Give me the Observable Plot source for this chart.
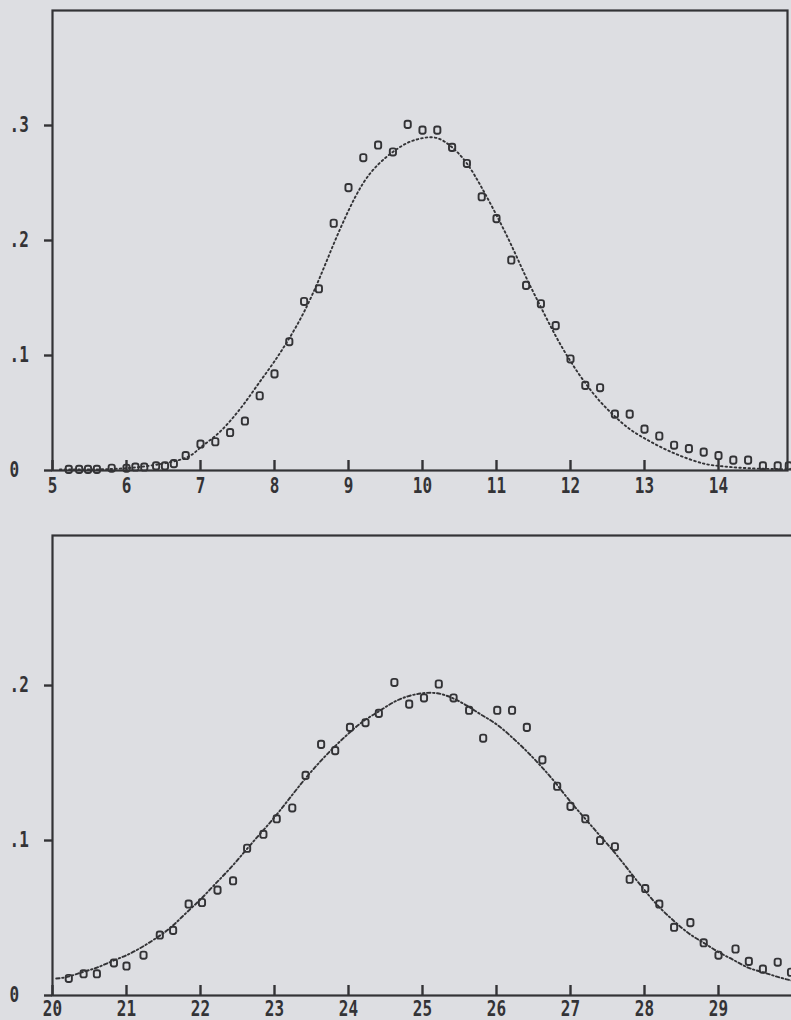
<!DOCTYPE html>
<html><head><meta charset="utf-8">
<script src="https://cdn.jsdelivr.net/npm/d3@7"></script>
<script src="https://cdn.jsdelivr.net/npm/@observablehq/plot@0.6"></script>
<style>
html,body{margin:0;padding:0;background:#dddee2;overflow:hidden;width:791px;height:1020px}
#c svg{display:block;max-width:none !important}
</style></head><body><div id="c"></div>
<script>
// ---------- top panel ----------
const topPointX = [5.22,5.36,5.48,5.6,5.8,6.0,6.12,6.24,6.4,6.52,6.64,6.8,7.0,7.2,7.4,7.6,7.8,8.0,8.2,8.4,8.6,8.8,9.0,9.2,9.4,9.6,9.8,10.0,10.2,10.4,10.6,10.8,11.0,11.2,11.4,11.6,11.8,12.0,12.2,12.4,12.6,12.8,13.0,13.2,13.4,13.6,13.8,14.0,14.2,14.4,14.6,14.8,14.95];
const topPointY = [0.001,0.001,0.001,0.001,0.002,0.002,0.003,0.003,0.004,0.004,0.006,0.013,0.023,0.025,0.033,0.043,0.065,0.084,0.112,0.147,0.158,0.215,0.246,0.272,0.283,0.277,0.301,0.296,0.296,0.281,0.267,0.238,0.219,0.183,0.161,0.145,0.126,0.097,0.074,0.072,0.049,0.049,0.036,0.030,0.022,0.019,0.016,0.013,0.009,0.009,0.004,0.004,0.004];
const topCurveX = [5.1,5.6,6.0,6.4,6.8,7.0,7.2,7.4,7.6,7.8,8.0,8.2,8.4,8.6,8.8,9.0,9.2,9.4,9.6,9.8,10.0,10.2,10.4,10.6,10.8,11.0,11.2,11.4,11.6,11.8,12.0,12.2,12.4,12.6,12.8,13.0,13.2,13.4,13.6,13.8,14.0,14.4,15.0];
const topCurveY = [0.001,0.001,0.002,0.005,0.011,0.02,0.03,0.043,0.059,0.077,0.095,0.115,0.138,0.166,0.197,0.226,0.25,0.266,0.277,0.285,0.289,0.289,0.281,0.267,0.246,0.222,0.196,0.168,0.142,0.117,0.095,0.076,0.06,0.047,0.036,0.028,0.021,0.015,0.01,0.006,0.004,0.002,0.001];
const topXTicks = [5,6,7,8,9,10,11,12,13,14];
const topYTicks = [0,0.1,0.2,0.3];
const topXDomain = [5,15];
const topYDomain = [0,0.4];

// ---------- bottom panel ----------
const botPointX = [20.22,20.42,20.6,20.83,21.0,21.23,21.45,21.63,21.84,22.02,22.23,22.44,22.63,22.85,23.03,23.24,23.42,23.63,23.82,24.02,24.23,24.41,24.62,24.82,25.02,25.22,25.42,25.63,25.82,26.01,26.21,26.41,26.62,26.82,27.0,27.2,27.4,27.6,27.8,28.01,28.2,28.4,28.62,28.8,29.0,29.23,29.41,29.6,29.8,29.98];
const botPointY = [0.011,0.014,0.014,0.021,0.019,0.026,0.039,0.042,0.059,0.060,0.068,0.074,0.095,0.104,0.114,0.121,0.142,0.162,0.158,0.173,0.176,0.182,0.202,0.188,0.192,0.201,0.192,0.184,0.166,0.184,0.184,0.173,0.152,0.135,0.122,0.114,0.100,0.096,0.075,0.069,0.059,0.044,0.047,0.034,0.026,0.030,0.022,0.017,0.0215,0.015];
const botCurveX = [20.05,20.2,20.4,20.6,20.8,21.0,21.2,21.4,21.6,21.8,22.0,22.2,22.4,22.6,22.8,23.0,23.2,23.4,23.6,23.8,24.0,24.2,24.4,24.6,24.8,25.0,25.2,25.4,25.6,25.8,26.0,26.2,26.4,26.6,26.8,27.0,27.2,27.4,27.6,27.8,28.0,28.2,28.4,28.6,28.8,29.0,29.2,29.4,29.6,29.8,30.0];
const botCurveY = [0.011,0.012,0.015,0.018,0.022,0.026,0.031,0.037,0.044,0.053,0.062,0.072,0.082,0.093,0.104,0.115,0.127,0.139,0.15,0.16,0.169,0.177,0.183,0.189,0.193,0.195,0.195,0.192,0.187,0.181,0.175,0.167,0.158,0.148,0.137,0.125,0.114,0.103,0.092,0.08,0.068,0.057,0.048,0.04,0.034,0.028,0.023,0.018,0.015,0.012,0.0095];
const botXTicks = [20,21,22,23,24,25,26,27,28,29];
const botYTicks = [0,0.1,0.2];
const botXDomain = [20,30];
const botYDomain = [0,0.2968];

const ink = "#333336";
const zip = (xs, ys) => xs.map((x, i) => ({x, y: ys[i]}));
const yFmt = d => d === 0 ? "0" : d3.format(".1f")(d).replace(/^0/, "");

const roundedSquare = {
  draw(ctx, size) {
    const w = 3.1, h = 3.6, r = 2.2;
    ctx.moveTo(-w + r, -h);
    ctx.lineTo(w - r, -h);
    ctx.arcTo(w, -h, w, -h + r, r);
    ctx.lineTo(w, h - r);
    ctx.arcTo(w, h, w - r, h, r);
    ctx.lineTo(-w + r, h);
    ctx.arcTo(-w, h, -w, h - r, r);
    ctx.lineTo(-w, -h + r);
    ctx.arcTo(-w, -h, -w + r, -h, r);
    ctx.closePath();
  }
};

function panel({height, marginTop, marginBottom, xDomain, yDomain, xTicks, yTicks, points, curve, dash, labelGap, frameInsetRight}) {
  const innerHeight = height - marginTop - marginBottom;
  return Plot.plot({
    width: 800, height, marginLeft: 52, marginRight: 8, marginTop, marginBottom,
    style: {background: "transparent", color: ink, fontFamily: "'DejaVu Sans Mono', monospace", fontSize: "16px", fontWeight: "bold"},
    x: {domain: xDomain},
    y: {domain: yDomain},
    marks: [
      Plot.frame({stroke: ink, strokeWidth: 2.2, insetRight: frameInsetRight}),
      // inward x ticks rising 10px from the baseline
      Plot.tickX(xTicks, {x: d => d, insetTop: innerHeight - 10, stroke: ink, strokeWidth: 2.4}),
      // x tick labels
      Plot.axisX(xTicks, {label: null, tickSize: 0, tickPadding: labelGap, fill: ink}),
      // outward y ticks
      Plot.axisY(yTicks, {label: null, tickSize: 8, tickFormat: () => "", strokeWidth: 2.4, stroke: ink}),
      // left-aligned y tick labels
      Plot.axisY(yTicks, {label: null, tickSize: 0, tickPadding: 0, textAnchor: "start", dx: -43, tickFormat: yFmt, fill: ink}),
      Plot.line(curve, {x: "x", y: "y", curve: "natural", stroke: ink, strokeWidth: 1.9, strokeDasharray: dash}),
      Plot.dot(points, {x: "x", y: "y", symbol: roundedSquare, r: 3.5, stroke: ink, strokeWidth: 1.9, fill: "none"})
    ]
  });
}

const c = document.getElementById("c");
c.append(panel({height: 520, marginTop: 10, marginBottom: 50, xDomain: topXDomain, yDomain: topYDomain,
  xTicks: topXTicks, yTicks: topYTicks, points: zip(topPointX, topPointY), curve: zip(topCurveX, topCurveY),
  dash: "1.6 3", labelGap: 7, frameInsetRight: 5}));
c.append(panel({height: 500, marginTop: 15, marginBottom: 25, xDomain: botXDomain, yDomain: botYDomain,
  xTicks: botXTicks, yTicks: botYTicks, points: zip(botPointX, botPointY), curve: zip(botCurveX, botCurveY),
  dash: "3.5 2.5 1.5 2.5", labelGap: 5, frameInsetRight: 0}));

// stretch the dot-matrix-like labels vertically
c.querySelectorAll("svg text").forEach(t => {
  const tr = t.getAttribute("transform") || "";
  t.setAttribute("transform", tr + " scale(1,1.35)");
});
</script>
</body></html>
